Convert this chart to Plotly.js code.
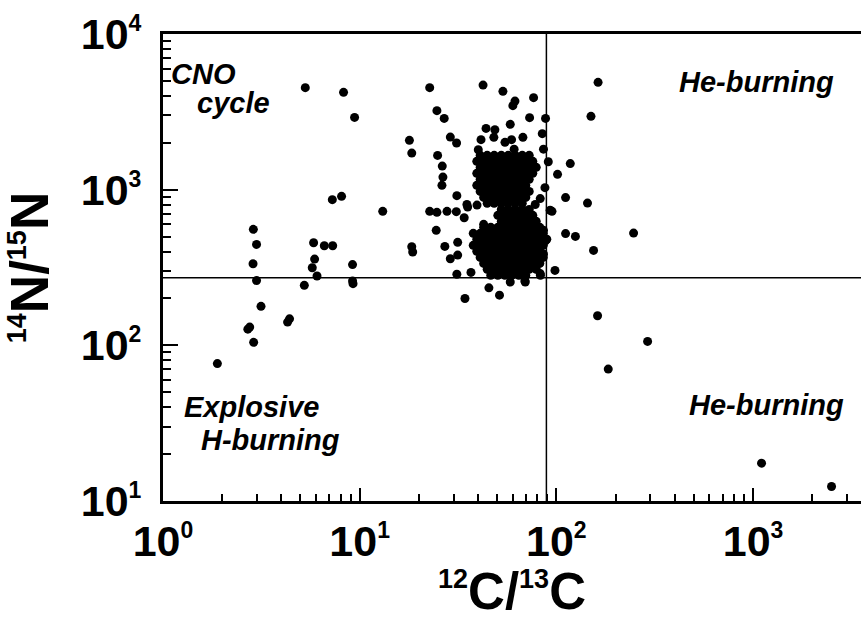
<!DOCTYPE html>
<html>
<head>
<meta charset="utf-8">
<script src="https://cdn.plot.ly/plotly-3.0.1.min.js"></script>
<style>html,body{margin:0;padding:0;background:#fff;}#chart{width:861px;height:620px;}</style>
</head>
<body>
<div id="chart"></div>
<script>
// Reference (solar) values drawn as the two dividing lines
const solarC = 89;
const solarN = 272;

// Dense cluster of points (12C/13C, 14N/15N)
const clusterC = [
  41.0,44.5,48.3,52.5,56.9,61.8,67.1,72.8,
  39.4,42.7,46.4,50.4,54.7,59.3,64.4,69.9,75.9,
  41.0,44.5,48.3,52.5,56.9,61.8,67.1,72.8,79.0,
  39.4,42.7,46.4,50.4,54.7,59.3,64.4,69.9,75.9,
  41.0,44.5,48.3,52.5,56.9,61.8,67.1,72.8,
  39.4,42.7,46.4,50.4,54.7,59.3,64.4,69.9,
  41.0,44.5,48.3,52.5,56.9,61.8,67.1,72.8,
  42.7,46.4,50.4,54.7,59.3,64.4,69.9,
  44.5,48.3,52.5,56.9,61.8,67.1,
  52.5,56.9,61.8,67.1,72.8,
  50.4,54.7,59.3,64.4,69.9,75.9,
  52.5,56.9,61.8,67.1,72.8,79.0,
  42.7,46.4,50.4,54.7,59.3,64.4,69.9,75.9,82.4,
  37.8,41.0,44.5,48.3,52.5,56.9,61.8,67.1,72.8,79.0,85.8,
  39.4,42.7,46.4,50.4,54.7,59.3,64.4,69.9,75.9,82.4,89.4,
  37.8,41.0,44.5,48.3,52.5,56.9,61.8,67.1,72.8,79.0,85.8,
  39.4,42.7,46.4,50.4,54.7,59.3,64.4,69.9,75.9,82.4,
  41.0,44.5,48.3,52.5,56.9,61.8,67.1,72.8,79.0,85.8,
  42.7,46.4,50.4,54.7,59.3,64.4,69.9,75.9,82.4,
  44.5,48.3,52.5,56.9,61.8,67.1,72.8,79.0,
  46.4,50.4,54.7,59.3,64.4,69.9
];
const clusterN = [
  1661,1661,1661,1661,1661,1661,1661,1661,
  1520,1520,1520,1520,1520,1520,1520,1520,1520,
  1391,1391,1391,1391,1391,1391,1391,1391,1391,
  1273,1273,1273,1273,1273,1273,1273,1273,1273,
  1165,1165,1165,1165,1165,1165,1165,1165,
  1066,1066,1066,1066,1066,1066,1066,1066,
  975,975,975,975,975,975,975,975,
  892,892,892,892,892,892,892,
  817,817,817,817,817,817,
  747,747,747,747,747,
  684,684,684,684,684,684,
  626,626,626,626,626,626,
  573,573,573,573,573,573,573,573,573,
  524,524,524,524,524,524,524,524,524,524,524,
  480,480,480,480,480,480,480,480,480,480,480,
  439,439,439,439,439,439,439,439,439,439,439,
  402,402,402,402,402,402,402,402,402,402,
  367,367,367,367,367,367,367,367,367,367,
  336,336,336,336,336,336,336,336,336,
  308,308,308,308,308,308,308,308,
  282,282,282,282,282,282
];

// Scattered points outside the cluster
const fieldC = [
  1.89,2.76,2.70,2.89,2.88,2.99,2.87,2.99,3.15,4.40,
  4.30,5.23,5.83,5.90,5.74,6.07,6.61,7.29,7.26,8.09,
  9.2,9.2,9.25,5.29,8.28,9.42,13.1,17.9,18.4,18.4,
  18.6,22.7,22.7,24.7,24.7,26.9,28.9,24.9,26.3,26.5,
  26.2,27.8,24.5,27.1,28.9,31.1,31.2,31.0,34.0,35.4,
  39.5,31.5,31.5,31.2,36.8,34.3,51.4,45.4,42.4,53.5,
  76.6,61.6,60.1,73.1,88.1,58.3,43.9,48.7,41.4,48.1,
  54.8,59.2,67.6,40.1,61.0,84.8,86.0,91.0,117.7,101.4,
  87.5,111.4,144,74.8,82.8,93.0,86.0,88.0,86.0,83.0,
  69.2,111.4,125,154.6,98.4,162,163,150,247,291,
  183.6,1105,2507,35.1,78.1,95.0,42.7,58.3,69.5,82.8
];
const fieldN = [
  76.3,131,127,104.5,556,445,334,261,178,148,
  141,243,456,358,315,279,436,436,863,906,
  330,259,249,4520,4217,2912,726,2075,1718,430,
  398,4520,726,715,3217,2870,2177,1660,1418,1205,
  1066,726,548,432,360,1993,915,722,660,773,
  796,459,380,286,294,200,210,234,4695,4280,
  3898,3706,3463,2900,2870,2627,2475,2427,2095,2168,
  2013,2095,2168,1806,1820,2289,1820,1512,1470,1254,
  1030,889,820,1306,876,737,548,470,386,282,
  259,522,501,407,303,155,4890,2958,526,106,
  70.4,17.5,12.4,803,803,726,599,255,255,289
];

// Axis ticks
const xTickVals = [1, 10, 100, 1000];
const yTickVals = [10, 100, 1000, 10000];
const xTickExp = ['0', '1', '2', '3'];
const yTickExp = ['1', '2', '3', '4'];

// Region labels
const regionLabels = ['CNO', 'cycle', 'He-burning', 'He-burning', 'Explosive', 'H-burning'];

const FONT = 'Liberation Sans, Arial, Helvetica, sans-serif';
const supTick = e => '10<sup><span style="font-size:23px">' + e + '</span></sup>';
const supTitle = (a, s1, b, s2) =>
  '<sup><span style="font-size:27px">' + a + '</span></sup>' + s1 + '/' +
  '<sup><span style="font-size:27px">' + b + '</span></sup>' + s2;

const traces = [
  {x: [solarC, solarC], y: [10, 10000], mode: 'lines', line: {color: 'black', width: 1.5}, hoverinfo: 'skip'},
  {x: [1, 4000], y: [solarN, solarN], mode: 'lines', line: {color: 'black', width: 1.5}, hoverinfo: 'skip'},
  {x: clusterC.concat(fieldC), y: clusterN.concat(fieldN), mode: 'markers', marker: {color: 'black', size: 9, line: {width: 0}}}
];

const pos = [
  [0.058, 0.914], [0.1003, 0.8516], [0.8496, 0.8966], [0.864, 0.205], [0.1275, 0.2006], [0.1533, 0.130]
];
const annotations = regionLabels.map((t, i) => ({
  text: t, xref: 'paper', yref: 'paper', x: pos[i][0], y: pos[i][1],
  xanchor: 'center', yanchor: 'middle', showarrow: false,
  font: {family: FONT, size: 29, weight: 'bold', style: 'italic', color: 'black'}
}));

const layout = {
  width: 861, height: 620,
  margin: {l: 163, r: 0, t: 34, b: 119, pad: 0},
  paper_bgcolor: 'white', plot_bgcolor: 'white',
  showlegend: false,
  font: {family: FONT, color: 'black'},
  xaxis: {
    type: 'log', range: [0, 3.549], showgrid: false, zeroline: false,
    showline: true, linewidth: 3, linecolor: 'black', mirror: true,
    ticks: 'inside', ticklen: 13, tickwidth: 2, tickcolor: 'black',
    tickmode: 'array', tickvals: xTickVals, ticktext: xTickExp.map(supTick),
    tickfont: {family: FONT, size: 43, weight: 'bold'}, ticklabelstandoff: 0,
    minor: {ticks: 'inside', ticklen: 7, tickwidth: 2, tickcolor: 'black', dtick: 'D1', showgrid: false},
    title: {text: supTitle('12', 'C', '13', 'C'),
            font: {family: FONT, size: 51, weight: 'bold'}, standoff: 4},
    automargin: false
  },
  yaxis: {
    type: 'log', range: [1, 4], showgrid: false, zeroline: false,
    showline: true, linewidth: 3, linecolor: 'black', mirror: false,
    ticks: 'inside', ticklen: 15, tickwidth: 2, tickcolor: 'black',
    tickmode: 'array', tickvals: yTickVals, ticktext: yTickExp.map(supTick),
    tickfont: {family: FONT, size: 43, weight: 'bold'}, ticklabelstandoff: 10,
    minor: {ticks: 'inside', ticklen: 8, tickwidth: 2, tickcolor: 'black', dtick: 'D1', showgrid: false},
    title: {text: supTitle('14', 'N', '15', 'N'),
            font: {family: FONT, size: 53, weight: 'bold'}, standoff: 16},
    automargin: false
  },
  annotations: annotations
};

Plotly.newPlot('chart', traces, layout, {staticPlot: true, displayModeBar: false});
</script>
</body>
</html>
